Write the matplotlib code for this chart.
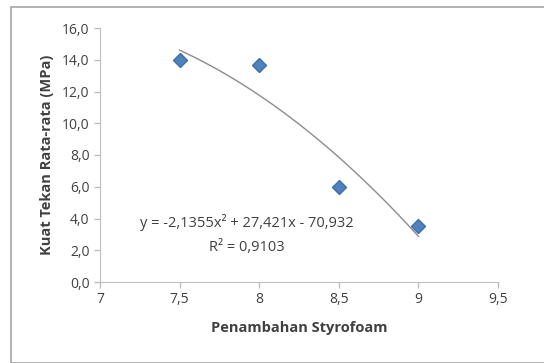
import numpy as np
import matplotlib
matplotlib.use('Agg')
import matplotlib.pyplot as plt
from matplotlib.patches import Rectangle

styrofoam = [7.5, 8, 8.5, 9]
kuat_tekan = [14.0, 13.7, 6.0, 3.5]
trend_coef = [-2.1355, 27.421, -70.932]
r2 = 0.9103
x_ticks = [7, 7.5, 8, 8.5, 9, 9.5]
y_ticks = [0, 2, 4, 6, 8, 10, 12, 14, 16]

plt.rcParams['font.family'] = ['Open Sans', 'DejaVu Sans']
txt = '#404040'

fig = plt.figure(figsize=(5.44, 3.63), dpi=100)
fig.patches.append(Rectangle((11 / 544, 0), 1, 1 - 7 / 363, transform=fig.transFigure,
                             fill=False, edgecolor='#a6a6a6', linewidth=1.2))
ax = fig.add_axes([100 / 544, 81 / 363, 398 / 544, 254 / 363])

xs = np.linspace(styrofoam[0], styrofoam[-1], 100)
ax.plot(xs, np.polyval(trend_coef, xs), color='#8c8c8c', linewidth=1)
ax.plot(styrofoam, kuat_tekan, linestyle='none', marker='D', markersize=7,
        color='#4f81bd', markeredgecolor='#3f6fa8')

ax.set_xlim(7, 9.5)
ax.set_ylim(0, 16)
ax.set_xticks(x_ticks)
ax.set_xticklabels([f'{v:g}'.replace('.', ',') for v in x_ticks])
ax.set_yticks(y_ticks)
ax.set_yticklabels([f'{v:.1f}'.replace('.', ',') for v in y_ticks])
ax.tick_params(colors='#bfbfbf', labelcolor=txt, labelsize=10, length=4, width=1)
for s in ['top', 'right']:
    ax.spines[s].set_visible(False)
for s in ['left', 'bottom']:
    ax.spines[s].set_color('#bfbfbf')

ax.set_xlabel('Penambahan Styrofoam', fontsize=10.5, fontweight='bold', color=txt, labelpad=10)
ax.set_ylabel('Kuat Tekan Rata-rata (MPa)', fontsize=10.5, fontweight='bold', color=txt, labelpad=6)

a, b, c = trend_coef
eq = f'y = {a:.4f}x² + {b:.3f}x - {abs(c):.3f}'.replace('.', ',')
ax.text(7.92, 3.72, eq, ha='center', va='center', fontsize=10.5, color=txt)
ax.text(7.92, 2.2, f'R² = {r2:.4f}'.replace('.', ','), ha='center', va='center', fontsize=10.5, color=txt)

fig.savefig('out.png', dpi=100)
